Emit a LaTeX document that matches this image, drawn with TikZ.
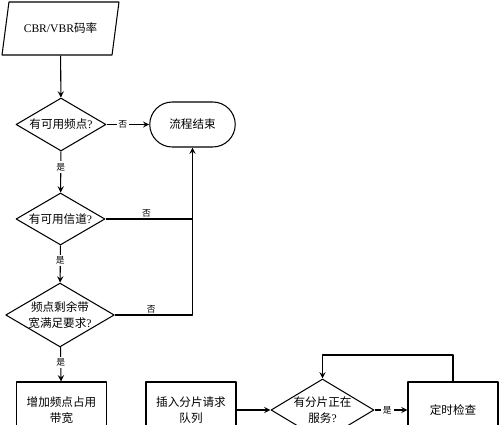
\documentclass[tikz,border=0pt]{standalone}
\usepackage{fontspec}
\setmainfont{Liberation Serif}
\newfontfamily\cjk{Noto Sans CJK SC}
\usetikzlibrary{shapes.geometric,shapes.misc}
\tikzset{
	base/.style={draw,line width=.6pt,align=center,inner sep=1pt,font=\fontsize{6.6}{9}\selectfont\cjk},
	io/.style={base,trapezium,trapezium left angle=64,trapezium right angle=116,trapezium stretches body,minimum width=2.34cm,minimum height=1.06cm},
	decide/.style={base,diamond,aspect=1.7,inner sep=0pt},
	stopbox/.style={base,rounded rectangle,minimum width=1.78cm,minimum height=.9cm},
	proc/.style={base,rectangle,minimum width=1.8cm,minimum height=1.12cm},
	yn/.style={font=\fontsize{5}{6}\selectfont\cjk,inner sep=1pt},
}
\newcommand{\qm}{{\rmfamily ?}}
\begin{document}
\begin{tikzpicture}[>=stealth,line join=round,x=0.02cm,y=-0.02cm,line width=.6pt]
	\useasboundingbox (0,0) rectangle (500,425);
	\clip (0,0) rectangle (500,425);
	% left column
	\node[io] (rate) at (60.5,28.5) {{\rmfamily CBR/VBR}码率};
	\node[decide,minimum width=1.8cm,minimum height=1.06cm] (freq) at (61,124.5) {有可用频点\qm};
	\node[decide,minimum width=1.78cm,minimum height=1.04cm] (chan) at (60.5,219) {有可用信道\qm};
	\node[decide,minimum width=2cm,minimum height=1.2cm] (bw) at (60,315) {频点剩余带\\宽满足要求\qm};
	\node[proc] (add) at (61.5,410) {增加频点占用\\带宽};
	\node[stopbox] (end) at (192.5,124.5) {流程结束};
	% bottom row
	\node[proc] (queue) at (191,410) {插入分片请求\\队列};
	\node[decide,minimum width=1.98cm,minimum height=1.24cm] (busy) at (322.5,410) {有分片正在\\服务\qm};
	\node[proc] (timer) at (453,410) {定时检查};
	\coordinate (top) at (0,355);
		\draw[->] (rate) -- (freq);
		\draw[->] (freq) -- node[yn,fill=white,pos=.38]{是} (chan);
		\draw[->] (chan) -- node[yn,fill=white,pos=.4]{是} (bw);
		\draw[->] (bw) -- node[yn,fill=white,pos=.45]{是} (add);
		\draw[->] (freq.east) -- node[yn,fill=white,pos=.38]{否} (end.west);
		\draw[->] (chan.east) -- node[yn,above,pos=.47]{否} (chan.east -| end.south) -- (end.south);
		\draw (bw.east) -- node[yn,above,pos=.47]{否} (bw.east -| end.south) -- (chan.east -| end.south);
		\draw[->] (queue.east) -- (busy.west);
		\draw[->] (busy.east) -- node[yn,fill=white,pos=.39]{是} (timer.west);
		\draw[->] (timer.north) -- (timer.north |- top) -| (busy.north);
\end{tikzpicture}
\end{document}
